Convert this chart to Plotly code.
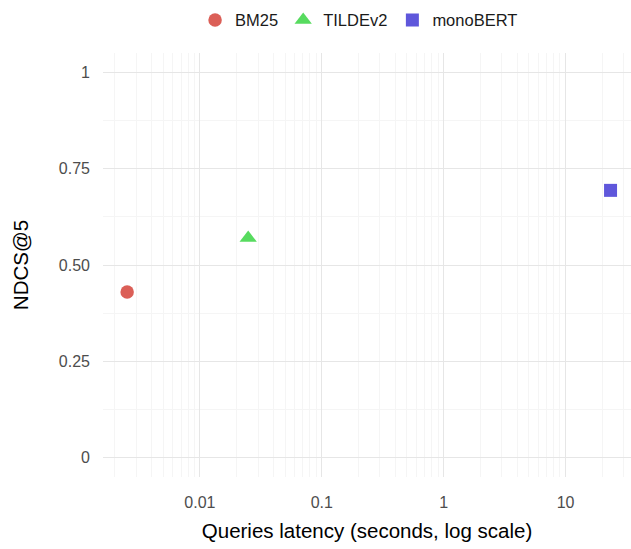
import numpy as np
import plotly.graph_objects as go

# Retrieval systems: mean query latency (s) vs. NDCS@5
systems = ["BM25", "TILDEv2", "monoBERT"]
latency = [0.00253, 0.0249, 23.4]
ndcs5 = [0.43, 0.57, 0.694]

colors = ["#db5f57", "#57db5f", "#5f57db"]
symbols = ["circle", "triangle-up", "square"]
sizes = [13.5, 15, 13]

x_major = [0.01, 0.1, 1, 10]
x_major_text = ["0.01", "0.1", "1", "10"]
y_major = [0, 0.25, 0.5, 0.75, 1]
y_major_text = ["0", "0.25", "0.50", "0.75", "1"]
y_minor = [0.125, 0.375, 0.625, 0.875]

# minor log gridlines at 2..9 of every decade
x_minor = [m * 10.0 ** e for e in range(-3, 2) for m in range(2, 10)]

FONT = "Liberation Sans, Arial, sans-serif"

fig = go.Figure()
for name, x, y, c, s, sz in zip(systems, latency, ndcs5, colors, symbols, sizes):
    fig.add_trace(go.Scatter(
        x=[x], y=[y], mode="markers", name=name,
        marker=dict(color=c, symbol=s, size=sz, line=dict(width=0)),
    ))

fig.update_layout(
    width=631, height=549,
    margin=dict(l=103, r=0, t=53, b=72),
    paper_bgcolor="white", plot_bgcolor="white",
    font=dict(family=FONT, color="#000000"),
    showlegend=True,
    legend=dict(orientation="h", x=0.485, xanchor="center",
                y=0.963, yanchor="middle", yref="container",
                font=dict(size=16.5, color="#1a1a1a", family=FONT),
                bgcolor="rgba(0,0,0,0)"),
)

fig.update_xaxes(
    type="log", range=[-2.795, 1.537],
    tickvals=x_major, ticktext=x_major_text,
    showgrid=True, gridcolor="#e6e6e6", gridwidth=1.4,
    minor=dict(tickvals=x_minor, showgrid=True, gridcolor="#f5f5f5", gridwidth=1),
    zeroline=False, showline=False, ticks="",
    tickfont=dict(size=16, color="#4d4d4d", family=FONT),
    ticklabelstandoff=14,
    title=dict(text="Queries latency (seconds, log scale)",
               font=dict(size=20.5, color="#000000", family=FONT), standoff=13),
)
fig.update_yaxes(
    range=[-0.051, 1.051],
    tickvals=y_major, ticktext=y_major_text,
    showgrid=True, gridcolor="#e6e6e6", gridwidth=1.4,
    minor=dict(tickvals=y_minor, showgrid=True, gridcolor="#f5f5f5", gridwidth=1),
    zeroline=False, showline=False, ticks="",
    tickfont=dict(size=16, color="#4d4d4d", family=FONT),
    ticklabelstandoff=12,
    title=dict(text="NDCS@5", font=dict(size=20.5, color="#000000", family=FONT), standoff=24),
)

fig.write_html("out.html")
